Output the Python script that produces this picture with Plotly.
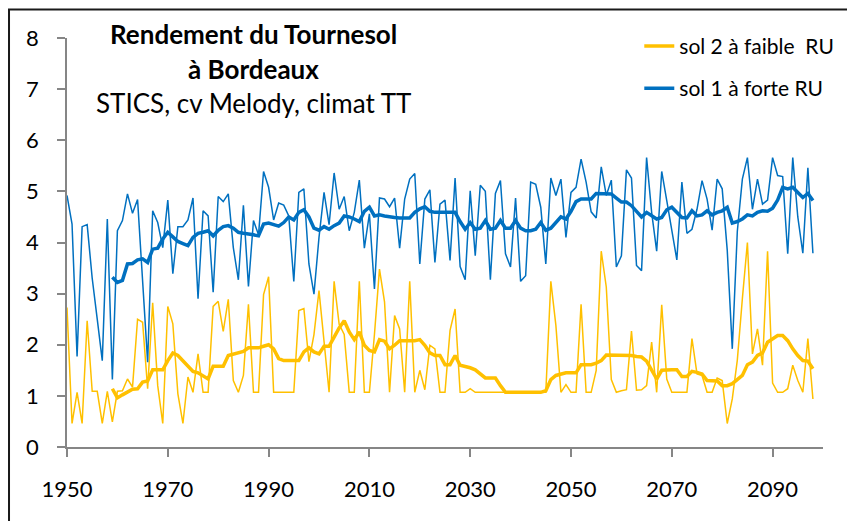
import plotly.graph_objects as go

years = list(range(1950, 2099))
ma_years = list(range(1959, 2099))

# sol 1 à forte RU - annual yields (t/ha)
sol1_annual = [
    4.92, 4.36, 1.77, 4.31, 4.35, 3.30, 2.50, 1.69, 4.46, 1.32,   # 1950-1959
    4.23, 4.43, 4.95, 4.57, 4.84, 3.30, 1.66, 4.62, 4.39, 3.90,   # 1960-1969
    4.83, 3.39, 4.31, 4.31, 4.44, 4.87, 2.90, 4.62, 4.52, 3.03,   # 1970-1979
    4.90, 4.80, 4.95, 3.90, 3.27, 4.73, 3.14, 4.43, 4.15, 5.39,   # 1980-1989
    5.08, 4.44, 4.77, 4.73, 4.52, 3.24, 4.98, 5.05, 3.58, 2.99,   # 1990-1999
    4.10, 4.98, 4.35, 5.36, 4.65, 4.90, 4.23, 4.59, 5.22, 3.89,   # 2000-2009
    4.56, 3.09, 4.87, 4.85, 4.70, 4.87, 3.89, 4.85, 5.24, 5.35,   # 2010-2019
    3.58, 4.85, 5.03, 3.61, 4.75, 4.83, 3.65, 5.26, 3.53, 3.27,   # 2020-2029
    5.01, 3.74, 5.12, 5.00, 3.27, 4.96, 5.21, 3.78, 3.52, 4.87,   # 2030-2039
    3.24, 3.35, 5.18, 5.14, 4.69, 3.58, 5.26, 4.92, 5.24, 4.10,   # 2040-2049
    4.98, 5.08, 5.63, 5.18, 4.60, 4.48, 5.48, 4.92, 5.22, 3.52,   # 2050-2059
    3.74, 5.42, 5.26, 3.55, 3.45, 5.66, 4.59, 3.83, 5.39, 4.82,   # 2060-2069
    4.23, 3.66, 5.18, 4.18, 4.26, 4.65, 5.21, 4.85, 4.24, 5.24,   # 2070-2079
    5.05, 3.85, 1.92, 4.22, 5.24, 5.66, 4.65, 5.24, 4.75, 4.83,   # 2080-2089
    5.66, 5.31, 5.29, 3.78, 5.66, 4.50, 3.79, 5.46, 3.79,         # 2090-2098
]

# sol 2 à faible RU - annual yields
sol2_annual = [
    2.73, 0.46, 1.07, 0.46, 2.47, 1.09, 1.09, 0.46, 1.09, 0.49,   # 1950-1959
    1.09, 1.10, 1.33, 1.17, 2.50, 2.44, 1.14, 2.82, 1.20, 0.46,   # 1960-1969
    2.75, 2.41, 1.04, 0.46, 1.37, 1.07, 1.82, 1.07, 1.07, 2.75,   # 1970-1979
    2.85, 2.26, 2.89, 1.30, 1.07, 1.40, 2.79, 1.07, 1.07, 2.98,   # 1980-1989
    3.33, 1.07, 1.07, 1.07, 1.07, 1.07, 2.67, 2.71, 1.67, 2.20,   # 1990-1999
    3.06, 2.00, 1.07, 3.24, 2.40, 2.20, 1.07, 1.07, 3.24, 1.07,   # 2000-2009
    1.07, 2.20, 3.48, 2.84, 1.07, 2.57, 2.31, 1.07, 3.24, 1.07,   # 2010-2019
    1.50, 1.12, 1.99, 1.92, 1.07, 1.07, 2.28, 2.70, 1.07, 1.07,   # 2020-2029
    1.14, 1.07, 1.07, 1.07, 1.07, 1.07, 1.07, 1.07, 1.07, 1.07,   # 2030-2039
    1.07, 1.07, 1.07, 1.07, 1.07, 1.07, 3.24, 2.38, 1.07, 1.22,   # 2040-2049
    1.07, 1.07, 2.79, 1.07, 1.07, 1.50, 3.83, 3.13, 1.32, 1.07,   # 2050-2059
    1.10, 1.12, 2.27, 1.11, 1.12, 1.20, 2.05, 1.07, 2.78, 1.33,   # 2060-2069
    1.07, 1.07, 1.07, 1.07, 2.12, 1.43, 1.40, 1.07, 1.07, 1.35,   # 2070-2079
    1.30, 0.46, 0.94, 1.70, 2.90, 4.00, 1.82, 2.31, 1.60, 3.83,   # 2080-2089
    1.25, 1.07, 1.07, 1.14, 1.60, 1.30, 1.07, 2.12, 0.94,         # 2090-2098
]

# moving averages (1959-2098)
sol1_ma = [
    3.32,                                                         # 1959
    3.22, 3.26, 3.58, 3.59, 3.66, 3.68, 3.61, 3.87, 3.89, 4.07,   # 1960-1969
    4.20, 4.11, 4.02, 3.98, 3.94, 4.10, 4.18, 4.20, 4.23, 4.13,   # 1970-1979
    4.24, 4.31, 4.33, 4.28, 4.20, 4.18, 4.17, 4.15, 4.13, 4.36,   # 1980-1989
    4.38, 4.35, 4.32, 4.39, 4.50, 4.44, 4.59, 4.64, 4.50, 4.28,   # 1990-1999
    4.24, 4.31, 4.26, 4.33, 4.38, 4.52, 4.50, 4.46, 4.41, 4.61,   # 2000-2009
    4.69, 4.52, 4.54, 4.52, 4.50, 4.49, 4.48, 4.48, 4.48, 4.59,   # 2010-2019
    4.66, 4.70, 4.61, 4.59, 4.59, 4.59, 4.59, 4.59, 4.41, 4.26,   # 2020-2029
    4.39, 4.26, 4.28, 4.43, 4.26, 4.28, 4.43, 4.28, 4.28, 4.43,   # 2030-2039
    4.28, 4.23, 4.23, 4.26, 4.39, 4.24, 4.28, 4.39, 4.50, 4.46,   # 2040-2049
    4.61, 4.80, 4.85, 4.85, 4.85, 4.96, 4.96, 4.96, 4.95, 4.87,   # 2050-2059
    4.79, 4.79, 4.72, 4.61, 4.50, 4.59, 4.52, 4.46, 4.49, 4.64,   # 2060-2069
    4.69, 4.59, 4.49, 4.48, 4.62, 4.52, 4.54, 4.62, 4.54, 4.59,   # 2070-2079
    4.62, 4.69, 4.38, 4.41, 4.46, 4.54, 4.52, 4.59, 4.62, 4.61,   # 2080-2089
    4.67, 4.83, 5.08, 5.05, 5.08, 4.98, 4.88, 4.96, 4.82,         # 2090-2098
]

sol2_ma = [
    1.14,                                                         # 1959
    0.96, 1.02, 1.07, 1.13, 1.14, 1.27, 1.29, 1.51, 1.51, 1.51,   # 1960-1969
    1.69, 1.84, 1.79, 1.69, 1.60, 1.48, 1.45, 1.38, 1.33, 1.58,   # 1970-1979
    1.58, 1.58, 1.79, 1.82, 1.84, 1.87, 1.94, 1.94, 1.94, 1.97,   # 1980-1989
    2.00, 1.92, 1.73, 1.69, 1.69, 1.69, 1.69, 1.86, 1.94, 1.86,   # 1990-1999
    1.82, 1.97, 1.97, 2.15, 2.33, 2.47, 2.25, 2.10, 2.25, 1.99,   # 2000-2009
    1.89, 1.86, 2.10, 2.07, 1.92, 1.99, 2.08, 2.08, 2.08, 2.08,   # 2010-2019
    2.10, 1.99, 1.84, 1.79, 1.79, 1.61, 1.61, 1.79, 1.60, 1.58,   # 2020-2029
    1.55, 1.51, 1.43, 1.35, 1.35, 1.35, 1.20, 1.07, 1.07, 1.07,   # 2030-2039
    1.07, 1.07, 1.07, 1.07, 1.07, 1.10, 1.32, 1.40, 1.43, 1.45,   # 2040-2049
    1.45, 1.45, 1.61, 1.61, 1.61, 1.64, 1.69, 1.80, 1.80, 1.80,   # 2050-2059
    1.80, 1.80, 1.79, 1.77, 1.76, 1.68, 1.50, 1.33, 1.50, 1.51,   # 2060-2069
    1.51, 1.51, 1.38, 1.38, 1.48, 1.46, 1.43, 1.30, 1.30, 1.29,   # 2070-2079
    1.20, 1.20, 1.24, 1.32, 1.40, 1.61, 1.66, 1.79, 1.84, 2.05,   # 2080-2089
    2.12, 2.18, 2.18, 2.08, 1.92, 1.79, 1.69, 1.68, 1.53,         # 2090-2098
]

x_tick_vals = [1950, 1970, 1990, 2010, 2030, 2050, 2070, 2090]
y_tick_vals = [0, 1, 2, 3, 4, 5, 6, 7, 8]
legend_names = ["sol 2 à faible\u00a0 RU", "sol 1 à forte RU"]
title_lines = ["<b>Rendement du Tournesol</b>", "<b>à Bordeaux</b>", "STICS, cv Melody, climat TT"]

YELLOW = "#FFC000"
BLUE = "#0070C0"
FONT = "Lato, Open Sans, sans-serif"

fig = go.Figure()
fig.add_trace(go.Scatter(x=years, y=sol2_annual, mode="lines",
                         line=dict(color=YELLOW, width=1.5), showlegend=False, hoverinfo="skip"))
fig.add_trace(go.Scatter(x=years, y=sol1_annual, mode="lines",
                         line=dict(color=BLUE, width=1.5), showlegend=False, hoverinfo="skip"))
fig.add_trace(go.Scatter(x=ma_years, y=sol2_ma, mode="lines", name=legend_names[0],
                         legendgroup="a", line=dict(color=YELLOW, width=3.5)))
fig.add_trace(go.Scatter(x=ma_years, y=sol1_ma, mode="lines", name=legend_names[1],
                         legendgroup="b", line=dict(color=BLUE, width=3.5)))

axis_color = "#868686"
fig.update_xaxes(range=[1950, 2100], tickmode="array", tickvals=x_tick_vals,
                 showline=True, linecolor=axis_color, linewidth=1.5,
                 ticks="outside", ticklen=8, tickcolor=axis_color, tickwidth=1.5,
                 showgrid=False, zeroline=False, ticklabelstandoff=14, automargin=False,
                 tickfont=dict(family=FONT, size=22, color="#000"))
fig.update_yaxes(range=[0, 8], tickmode="array", tickvals=y_tick_vals,
                 showline=True, linecolor=axis_color, linewidth=1.5,
                 ticks="outside", ticklen=8, tickcolor=axis_color, tickwidth=1.5,
                 showgrid=False, zeroline=False, ticklabelstandoff=14, automargin=False,
                 tickfont=dict(family=FONT, size=22, color="#000"))

annots = []
for txt, yp in zip(title_lines, [1.01, 0.925, 0.842]):
    annots.append(dict(text=txt, x=0.247, y=yp, xref="paper", yref="paper",
                       xanchor="center", yanchor="middle", showarrow=False,
                       font=dict(family=FONT, size=26, color="#000")))

fig.update_layout(
    width=847, height=513,
    margin=dict(l=59, r=32, t=30, b=74, autoexpand=False),
    plot_bgcolor="white", paper_bgcolor="white",
    annotations=annots,
    showlegend=True,
    legend=dict(x=0.757, y=1.03, xanchor="left", yanchor="top",
                traceorder="grouped", tracegroupgap=12,
                bgcolor="rgba(0,0,0,0)",
                font=dict(family=FONT, size=21, color="#000")),
    shapes=[dict(type="rect", xref="paper", yref="paper",
                 x0=-0.0767, x1=1.2, y0=-0.4, y1=1.0697,
                 line=dict(color="#1a1a1a", width=2), layer="below")],
)

fig.write_html("out.html")
